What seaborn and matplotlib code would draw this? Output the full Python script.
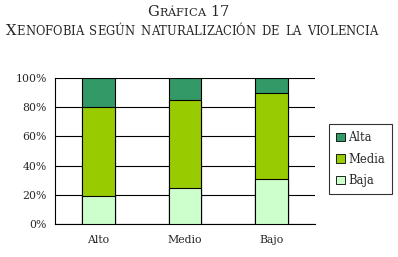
import matplotlib
matplotlib.use("Agg")
import matplotlib.pyplot as plt
import seaborn as sns
import pandas as pd
import numpy as np
from matplotlib.patches import Patch

categories = ["Alto", "Medio", "Bajo"]
baja = [19, 25, 31]
media = [61, 60, 59]
alta = [20, 15, 10]
series_names = ["Alta", "Media", "Baja"]
colors = {"Alta": "#339966", "Media": "#99CC00", "Baja": "#CCFFCC"}
yticks = [0, 20, 40, 60, 80, 100]

sns.set_theme(style="white")
plt.rcParams["font.family"] = ["DejaVu Serif"]

fig = plt.figure(figsize=(3.98, 2.57), dpi=100)
ax = fig.add_axes([55/398, 1-224/257, 260/398, 146/257])

df = pd.DataFrame({"cat": categories, "Baja": baja, "Media": media, "Alta": alta})
df["c_baja"] = df["Baja"]
df["c_media"] = df["Baja"] + df["Media"]
df["c_alta"] = df["c_media"] + df["Alta"]

for col, name in [("c_alta", "Alta"), ("c_media", "Media"), ("c_baja", "Baja")]:
    sns.barplot(data=df, x="cat", y=col, color=colors[name], width=0.38,
                edgecolor="black", linewidth=0.8, saturation=1, ax=ax, zorder=3)

ax.set_ylim(0, 100)
ax.set_xlim(-0.5, 2.5)
ax.set_yticks(yticks)
ax.set_yticklabels([f"{v}%" for v in yticks], fontsize=7.8)
ax.set_xticks([0, 1, 2])
ax.set_xticklabels(categories, fontsize=7.8)
ax.set_xticks([-0.5, 0.5, 1.5, 2.5], minor=True)
ax.tick_params(axis="x", which="major", length=0, pad=8)
ax.tick_params(axis="x", which="minor", length=4, width=0.8, color="black", direction="out")
ax.tick_params(axis="y", length=4, width=0.8, color="black", direction="out", pad=2)
ax.set_xlabel("")
ax.set_ylabel("")
ax.yaxis.grid(True, color="black", linewidth=0.8, zorder=0)
ax.set_axisbelow(True)
for s in ["top", "right"]:
    ax.spines[s].set_visible(False)
for s in ["left", "bottom"]:
    ax.spines[s].set_color("black")
    ax.spines[s].set_linewidth(0.8)

handles = [Patch(facecolor=colors[n], edgecolor="black", linewidth=0.6, label=n) for n in series_names]
leg = fig.legend(handles=handles, loc="upper left", bbox_to_anchor=(329/398, 1-124/257),
                 fontsize=8.3, frameon=True, fancybox=False, handlelength=0.75, handleheight=0.75,
                 handletextpad=0.3, labelspacing=0.75, borderpad=0.6, borderaxespad=0)
leg.get_frame().set_edgecolor("black")
leg.get_frame().set_linewidth(0.8)

# small-caps title
def small_caps_line(text, y_px, big, small, center_px, space_px):
    fig.canvas.draw()
    r = fig.canvas.get_renderer()
    segs = []
    for i, ch in enumerate(text):
        if ch == " ":
            segs.append((" ", small))
        elif i == 0 or ch.isdigit():
            segs.append((ch.upper(), big))
        else:
            segs.append((ch.upper(), small))
    texts = []
    x = 0
    for s, sz in segs:
        if s == " ":
            x += space_px
            continue
        t = fig.text(0, 1 - y_px/257, s, fontsize=sz, va="baseline", ha="left",
                     family="DejaVu Serif")
        w = t.get_window_extent(r).width
        texts.append((t, x))
        x += w
    start = center_px - x / 2
    for t, off in texts:
        t.set_x((start + off) / 398)

small_caps_line("Gráfica 17", 16, 10.5, 8.2, 188, 5.5)
small_caps_line("Xenofobia según naturalización de la violencia", 35, 10.6, 8.3, 191.5, 6)

fig.savefig("out.png", dpi=100)
